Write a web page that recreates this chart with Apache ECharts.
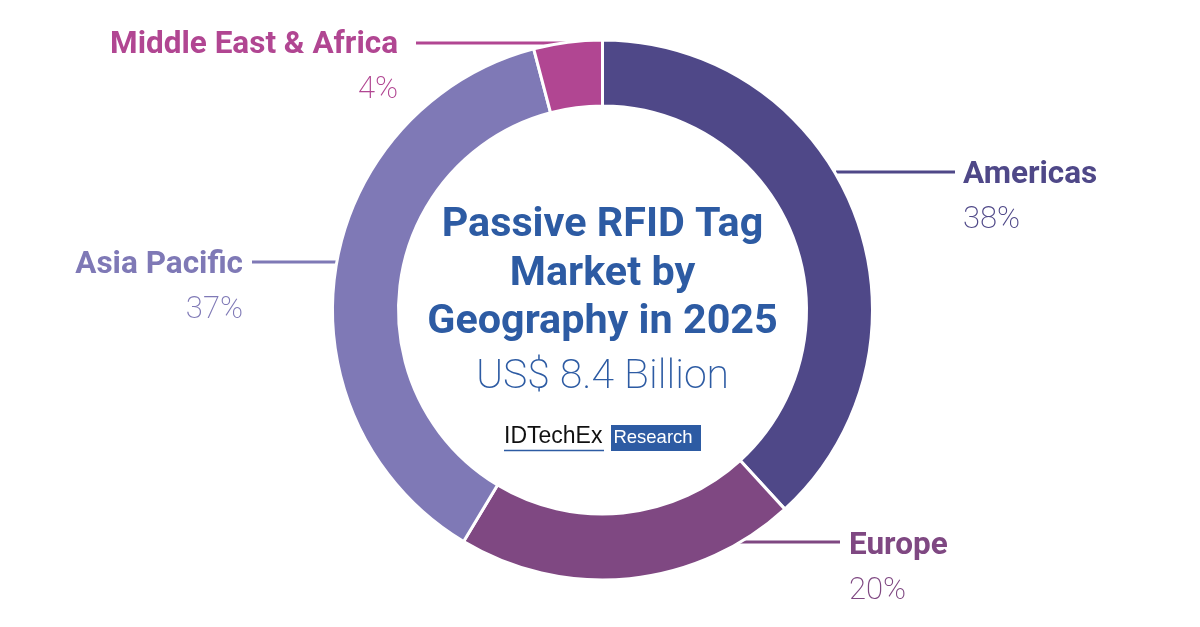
<!DOCTYPE html>
<html><head><meta charset="utf-8">
<style>html,body{margin:0;padding:0;background:#fff}#c{width:1200px;height:627px}</style>
<script src="https://cdn.jsdelivr.net/npm/echarts@6/dist/echarts.min.js"></script>
</head><body><div id="c"></div>
<script>
const regions = ['Americas','Europe','Asia Pacific','Middle East & Africa'];
const shares = [38.2,20.4,37.3,4.1];
const colors = ['#4f4888','#7f4882','#7f79b6','#b14692'];
const labelAnchors = [[963,198,'left'],[849,569,'left'],[243,288,'right'],[398,68,'right']];
const leaders = [[836,172,955,172],[735,542,840,542],[252,262,340,262],[416,43,580,43]];
const titleLines = ['Passive RFID Tag','Market by','Geography in 2025'];
const subtitle = 'US$ 8.4 Billion';
const font = 'Roboto';
const chart = echarts.init(document.getElementById('c'),null,{renderer:'canvas'});
const graphics = [];
leaders.forEach((l,i)=>graphics.push({type:'line',z:0,shape:{x1:l[0],y1:l[1],x2:l[2],y2:l[3]},style:{stroke:colors[i],lineWidth:3}}));
titleLines.forEach((t,i)=>graphics.push({type:'text',z:5,style:{x:602.5,y:226+i*48.5,text:t,align:'center',verticalAlign:'middle',font:'700 41.3px '+font,fill:'#2d5ba3'}}));
graphics.push({type:'text',z:5,style:{x:602.5,y:378,text:subtitle,align:'center',verticalAlign:'middle',font:'200 41px '+font,fill:'#2d5ba3'}});
graphics.push({type:'text',z:5,style:{x:504,y:437,text:'IDTechEx',align:'left',verticalAlign:'middle',font:'400 23px "Liberation Sans"',fill:'#111'}});
graphics.push({type:'line',z:5,shape:{x1:504,y1:450.5,x2:604,y2:450.5},style:{stroke:'#2d5ba3',lineWidth:1.5}});
graphics.push({type:'rect',z:5,shape:{x:611,y:425,width:90,height:26},style:{fill:'#2d5ba3'}});
graphics.push({type:'text',z:6,style:{x:653,y:438,text:'Research',align:'center',verticalAlign:'middle',font:'400 18.5px "Liberation Sans"',fill:'#fff'}});
chart.setOption({
  animation:false,
  backgroundColor:'#fff',
  graphic:graphics,
  series:[{
    type:'pie',z:2,
    center:[602.5,310],radius:[204,270],
    startAngle:90,clockwise:true,
    itemStyle:{borderColor:'#fff',borderWidth:3},
    emphasis:{disabled:true},
    labelLine:{show:false},
    labelLayout:p=>{const a=labelAnchors[p.dataIndex];return {x:a[0],y:a[1],align:a[2],verticalAlign:'middle'};},
    data:regions.map((n,i)=>({name:n,value:shares[i],itemStyle:{color:colors[i]},
      label:{show:true,position:'outside',
        formatter:'{n|'+n+'}\n{v|'+Math.round(shares[i])+'%}',
        rich:{
          n:{fontFamily:font,fontWeight:700,fontSize:31.5,lineHeight:45,color:colors[i],align:labelAnchors[i][2]},
          v:{fontFamily:font,fontWeight:200,fontSize:31,lineHeight:45,color:colors[i],align:labelAnchors[i][2]}
        }}}))
  }]
});
</script></body></html>
